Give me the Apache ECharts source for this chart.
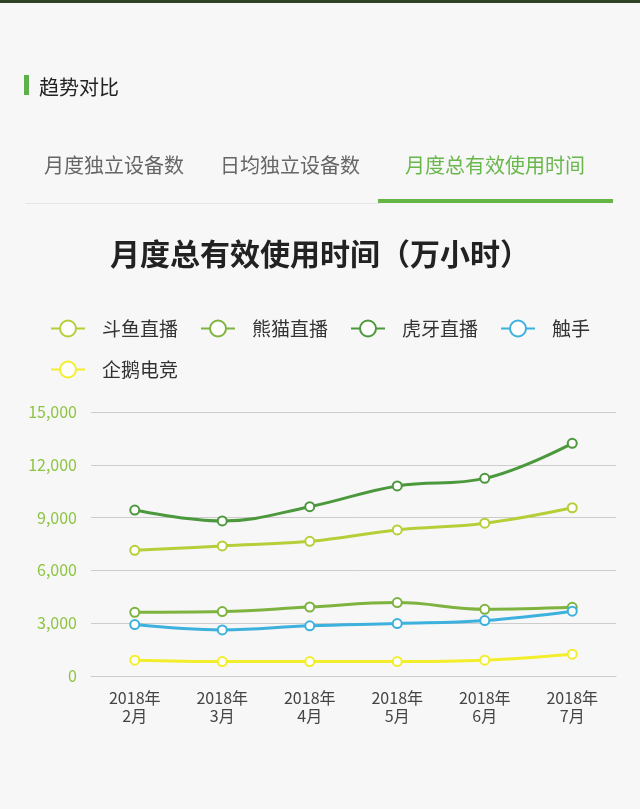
<!DOCTYPE html>
<html><head><meta charset="utf-8">
<script src="https://cdn.jsdelivr.net/npm/echarts@6/dist/echarts.min.js"></script>
<style>html,body{margin:0;padding:0;background:#f7f7f7;}#c{width:640px;height:809px;}</style>
</head><body><div id="c"></div>
<script>
const categories = ['2018年\n2月','2018年\n3月','2018年\n4月','2018年\n5月','2018年\n6月','2018年\n7月'];
const seriesNames = ['斗鱼直播','熊猫直播','虎牙直播','触手','企鹅电竞'];
const douyu   = [7140, 7390, 7650, 8300, 8680, 9560];
const panda   = [3620, 3660, 3920, 4170, 3790, 3900];
const huya    = [9430, 8810, 9620, 10800, 11230, 13220];
const chushou = [2920, 2620, 2850, 2980, 3150, 3680];
const penguin = [900, 820, 820, 820, 900, 1240];
const yTicks = [0, 3000, 6000, 9000, 12000, 15000];
const tabs = ['月度独立设备数','日均独立设备数','月度总有效使用时间'];

const colors = ['#b5cf38','#7db33e','#4c983c','#3db1dd','#f2ee2c'];
const values = [douyu, panda, huya, chushou, penguin];
const FONT = '"Noto Sans CJK SC", "Noto Sans", sans-serif';

const chart = echarts.init(document.getElementById('c'));
chart.setOption({
  backgroundColor: '#f7f7f7',
  textStyle: {fontFamily: FONT},
  title: {
    text: '月度总有效使用时间（万小时）',
    left: 'center', top: 234,
    textStyle: {fontSize: 30, fontWeight: 'bold', color: '#222', fontFamily: FONT}
  },
  legend: {
    left: 45, top: 314, width: 575,
    itemWidth: 34, itemHeight: 20, itemGap: 22,
    textStyle: {fontSize: 19, color: '#333', padding: [0,0,0,12], fontFamily: FONT},
    data: seriesNames
  },
  grid: {left: 91, right: 24, top: 412, bottom: 133, containLabel: false},
  xAxis: {
    type: 'category', data: categories, boundaryGap: true,
    axisLine: {lineStyle: {color: '#cccccc'}},
    axisTick: {show: false},
    axisLabel: {fontSize: 16, color: '#444', lineHeight: 18, margin: 13, fontFamily: FONT}
  },
  yAxis: {
    type: 'value', min: yTicks[0], max: yTicks[yTicks.length-1], interval: 3000,
    axisLine: {show: false}, axisTick: {show: false},
    splitLine: {lineStyle: {color: '#cccccc'}},
    axisLabel: {fontSize: 16, color: '#8cc43f', margin: 14, fontFamily: FONT,
      formatter: v => v.toString().replace(/\B(?=(\d{3})+(?!\d))/g, ',')}
  },
  series: seriesNames.map((n, i) => ({
    name: n, type: 'line', data: values[i], smooth: 0.4,
    symbol: 'emptyCircle', symbolSize: 9,
    itemStyle: {color: colors[i], borderWidth: 2},
    lineStyle: {width: 3, color: colors[i]}
  })),
  graphic: [
    {type: 'rect', shape: {x: 0, y: 0, width: 640, height: 3}, style: {fill: '#2f4426'}},
    {type: 'rect', shape: {x: 24, y: 75, width: 5, height: 20}, style: {fill: '#5db14a'}},
    {type: 'text', x: 39, y: 87, style: {text: '趋势对比', fontSize: 20, fill: '#222', verticalAlign: 'middle', fontFamily: FONT}},
    {type: 'text', x: 44, y: 165, style: {text: tabs[0], fontSize: 20, fill: '#666', verticalAlign: 'middle', fontFamily: FONT}},
    {type: 'text', x: 220, y: 165, style: {text: tabs[1], fontSize: 20, fill: '#666', verticalAlign: 'middle', fontFamily: FONT}},
    {type: 'text', x: 405, y: 165, style: {text: tabs[2], fontSize: 20, fill: '#6ab74c', verticalAlign: 'middle', fontFamily: FONT}},
    {type: 'rect', shape: {x: 25, y: 203, width: 355, height: 1}, style: {fill: '#e6e6e6'}},
    {type: 'rect', shape: {x: 378, y: 199, width: 235, height: 4}, style: {fill: '#66b646'}}
  ]
});
</script></body></html>
